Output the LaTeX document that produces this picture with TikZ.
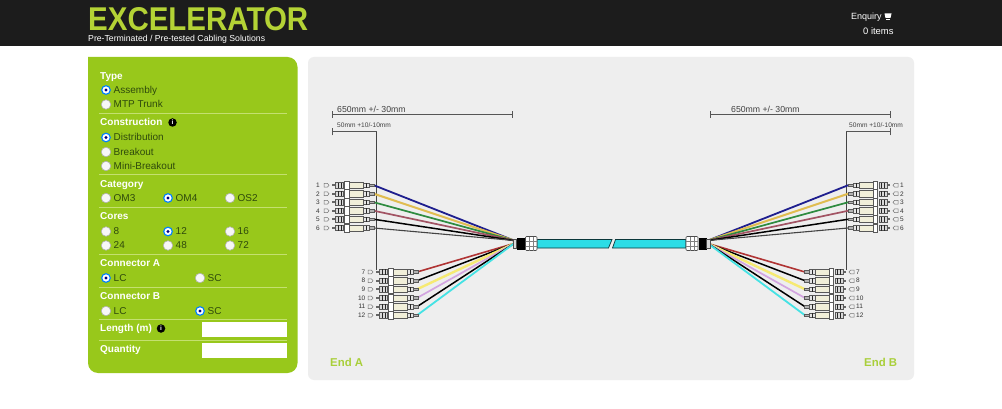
\documentclass[tikz,border=0pt]{standalone}
\usepackage{fontspec}
\usepackage{graphicx}
\setmainfont{Liberation Sans}
\definecolor{hdr}{HTML}{1C1C1C}
\definecolor{logo}{HTML}{B4D335}
\definecolor{pnl}{HTML}{98C81B}
\definecolor{grey}{HTML}{EEEEEE}
\definecolor{sep}{HTML}{C4E070}
\definecolor{lbl}{HTML}{2F4A0C}
\definecolor{endg}{HTML}{A9CF3A}
\definecolor{dimc}{HTML}{555555}
\definecolor{cab}{HTML}{2CDDE6}
\definecolor{body}{HTML}{F1EFD9}
\definecolor{wblue}{HTML}{1E1E8E}
\definecolor{worange}{HTML}{E0BC50}
\definecolor{wgreen}{HTML}{2E8B40}
\definecolor{wrose}{HTML}{A25464}
\definecolor{wgrey}{HTML}{444444}
\definecolor{wred}{HTML}{B03434}
\definecolor{wyellow}{HTML}{F6EA72}
\definecolor{wlilac}{HTML}{D3A5E0}
\definecolor{wcyan}{HTML}{45E2E4}
\tikzset{
  head/.style={anchor=west,inner sep=0pt,text=white,text height=8.4pt,text depth=2pt,font=\bfseries\fontsize{10}{10}\selectfont},
  lab/.style={anchor=west,inner sep=0pt,text=lbl,text height=8.4pt,text depth=2pt,font=\fontsize{10}{10}\selectfont},
  radio/.style={circle,draw=black!30,fill=black!3,line width=.6pt,minimum size=9.5pt,inner sep=0pt},
  radioon/.style={circle,draw=blue!50!cyan,fill=white,line width=1.1pt,minimum size=8.6pt,inner sep=0pt,
     path picture={\fill[blue!50!black] (path picture bounding box.center) circle (1.7pt);}},
  sepline/.style={draw=sep,line width=.8pt},
  infoi/.style={circle,fill=black,text=white,inner sep=0pt,minimum size=8.5pt,font=\bfseries\fontsize{6.5}{6.5}\selectfont},
  field/.style={fill=white,draw=none,minimum width=85pt,minimum height=15.5pt,inner sep=0pt,anchor=north west},
  dimline/.style={draw=dimc,line width=1pt},
  vline/.style={draw=wgrey,line width=.8pt},
  dimbig/.style={anchor=west,inner sep=0pt,text=black!75,font=\fontsize{8.7}{8.7}\selectfont},
  dimsmall/.style={anchor=west,inner sep=0pt,text=black!75,font=\fontsize{6.6}{6.6}\selectfont},
  corenum/.style={inner sep=0pt,text=black!80,font=\fontsize{6.5}{6.5}\selectfont},
  endlab/.style={anchor=west,inner sep=0pt,text=endg,font=\bfseries\fontsize{11.4}{11.4}\selectfont},
  wire/.style={line width=#1,line cap=round},
  part/.style={draw=black!65,line width=.5pt},
  lc/.pic={
    \fill[black!60] (0,-1) rectangle (3,1);
    \draw[part,fill=black!15] (3,-2.6) rectangle (11,2.6);
    \draw[black!85,line width=1pt] (6,-2.6) -- (6,2.6) (9,-2.6) -- (9,2.6);
    \draw[part,fill=body] (17,-3.2) rectangle (31,3.2);
    \draw[part,fill=white] (12.5,-4.1) rectangle (17,4.1);
    \draw[part,fill=black!10] (31,-2.4) rectangle (37,2.4);
    \draw[black!85,line width=.9pt] (34,-2.4) -- (34,2.4);
    \draw[part,fill=black!30] (37,-1.4) rectangle (42,1.4);
  },
  tag/.pic={
    \draw[black!55,line width=.5pt] (-2.5,-1.8) -- (1,-1.8) -- (2.5,0) -- (1,1.8) -- (-2.5,1.8) -- cycle;
  }
}
\begin{document}
\begin{tikzpicture}[x=1pt,y=-1pt]
\useasboundingbox (0,0) rectangle (1002,409);
\fill[white] (0,0) rectangle (1002,409);
% header
\fill[hdr] (0,0) rectangle (1002,46.5);
\node[anchor=south west,inner sep=0pt,text=logo] (brand) at (88,31.3) {\resizebox{220pt}{23pt}{\bfseries EXCELERATOR}};
\node[anchor=base west,inner sep=0pt,text=white] (tagline) at (88,42) {\resizebox{177pt}{!}{Pre-Terminated / Pre-tested Cabling Solutions}};
\node[anchor=west,inner sep=0pt,text=white,font=\fontsize{9}{9}\selectfont] (enq) at (851,17) {Enquiry};
\node[anchor=west,inner sep=0pt,text=white,font=\fontsize{9.4}{9.4}\selectfont] (items) at (863,31) {0 items};
\fill[white] (884.5,13.5) -- (891.5,13.5) -- (890.5,18) -- (885.5,18) -- cycle;
\fill[white] (885.5,19) rectangle (890,20.3);
% panels
\fill[pnl,rounded corners=10pt] (88,57) [sharp corners] -- (98,57) [rounded corners=10pt] -- (297.5,57) -- (297.5,373) -- (88,373) -- (88,70) [sharp corners] -- cycle;
\fill[grey,rounded corners=6pt] (308,57) rectangle (914,380);
% form
\node[head] (tType) at (100,76) {Type};
\node[radioon] (rAss) at (106,90) {}; \node[lab] (lAss) at (113.5,90) {Assembly};
\node[radio] (rMtp) at (106,104.5) {}; \node[lab] (lMtp) at (113.5,104.5) {MTP Trunk};
\draw[sepline] (99,113.5) -- (287,113.5);
\node[head] (tCon) at (100,122.5) {Construction};
\node[infoi] (iCon) at (172.5,122.5) {i};
\node[radioon] (rDis) at (106,137.5) {}; \node[lab] (lDis) at (113.5,137.5) {Distribution};
\node[radio] (rBrk) at (106,152) {}; \node[lab] (lBrk) at (113.5,152) {Breakout};
\node[radio] (rMin) at (106,166) {}; \node[lab] (lMin) at (113.5,166) {Mini-Breakout};
\draw[sepline] (99,174.5) -- (287,174.5);
\node[head] (tCat) at (100,184.5) {Category};
\node[radio] (rOm3) at (106,198) {}; \node[lab] (lOm3) at (113.5,198) {OM3};
\node[radioon] (rOm4) at (168,198) {}; \node[lab] (lOm4) at (175.5,198) {OM4};
\node[radio] (rOs2) at (230,198) {}; \node[lab] (lOs2) at (237.5,198) {OS2};
\draw[sepline] (99,207.5) -- (287,207.5);
\node[head] (tCor) at (100,216.5) {Cores};
\node[radio] (r8) at (106,231.5) {}; \node[lab] (l8) at (113.5,231.5) {8};
\node[radioon] (r12) at (168,231.5) {}; \node[lab] (l12) at (175.5,231.5) {12};
\node[radio] (r16) at (230,231.5) {}; \node[lab] (l16) at (237.5,231.5) {16};
\node[radio] (r24) at (106,245.5) {}; \node[lab] (l24) at (113.5,245.5) {24};
\node[radio] (r48) at (168,245.5) {}; \node[lab] (l48) at (175.5,245.5) {48};
\node[radio] (r72) at (230,245.5) {}; \node[lab] (l72) at (237.5,245.5) {72};
\draw[sepline] (99,254) -- (287,254);
\node[head] (tA) at (100,263.5) {Connector A};
\node[radioon] (rAL) at (106,278) {}; \node[lab] (lAL) at (113.5,278) {LC};
\node[radio] (rAS) at (200,278) {}; \node[lab] (lAS) at (207.5,278) {SC};
\draw[sepline] (99,287) -- (287,287);
\node[head] (tB) at (100,296) {Connector B};
\node[radio] (rBL) at (106,311) {}; \node[lab] (lBL) at (113.5,311) {LC};
\node[radioon] (rBS) at (200,311) {}; \node[lab] (lBS) at (207.5,311) {SC};
\draw[sepline] (99,319) -- (287,319);
\node[head] (tLen) at (100,328.5) {Length (m)};
\node[infoi] (iLen) at (161,328.5) {i};
\node[field] (fLen) at (202,321.5) {};
\draw[sepline] (99,340) -- (287,340);
\node[head] (tQty) at (100,349) {Quantity};
\node[field] (fQty) at (202,342.5) {};
% dimensions
\coordinate (dA1) at (332.5,114.5); \coordinate (dA2) at (512,114.5);
\coordinate (dA3) at (332.5,132); \coordinate (dA4) at (376.5,132); \coordinate (dA5) at (376.5,270);
\coordinate (dB1) at (710,114.5); \coordinate (dB2) at (890,114.5);
\coordinate (dB3) at (846,132); \coordinate (dB4) at (890,132); \coordinate (dB5) at (846,270);
\draw[dimline] (dA1) -- (dA2);
\draw[dimline] ([yshift=-3.5pt]dA1) -- ([yshift=3.5pt]dA1) ([yshift=-3.5pt]dA2) -- ([yshift=3.5pt]dA2);
\draw[dimline] (dA3) -- (dA4);
\draw[dimline] ([yshift=-3.5pt]dA3) -- ([yshift=3.5pt]dA3);
\draw[dimline] (dB1) -- (dB2);
\draw[dimline] ([yshift=-3.5pt]dB1) -- ([yshift=3.5pt]dB1) ([yshift=-3.5pt]dB2) -- ([yshift=3.5pt]dB2);
\draw[dimline] (dB3) -- (dB4);
\draw[dimline] ([yshift=-3.5pt]dB4) -- ([yshift=3.5pt]dB4);
\draw[vline] (dA4) -- (dA5);
\draw[vline] (dB3) -- (dB5);
\node[dimbig] (d650a) at (337,109) {650mm +/- 30mm};
\node[dimbig] (d650b) at (731,109) {650mm +/- 30mm};
\node[dimsmall] (d50a) at (337,125.5) {50mm +10/-10mm};
\node[dimsmall] (d50b) at (849,125.5) {50mm +10/-10mm};
% hubs
\coordinate (hubAu) at (514,240.5); \coordinate (hubAl) at (514,243.5);
\coordinate (hubBu) at (708,240.5); \coordinate (hubBl) at (708,243.5);
% fibres left and right
\foreach \n/\y/\c/\w in {1/185.3/wblue/1.8,2/193.8/worange/2,3/202.3/wgreen/1.7,4/210.8/wrose/1.7,5/219.3/black/1.5,6/228/wgrey/1.1}{
  \coordinate (au\n) at (374,\y);
  \coordinate (bu\n) at (848,\y);
  \draw[wire=\w,\c] (au\n) -- (hubAu);
  \draw[wire=\w,\c] (bu\n) -- (hubBu);
  \pic at (332,\y) {lc};
  \pic[xscale=-1] at (890,\y) {lc};
  \pic at (326.5,\y) {tag};
  \pic[xscale=-1] at (895.5,\y) {tag};
  \node[corenum] (na\n) at (318,\y) {\n};
  \node[corenum] (nb\n) at (902,\y) {\n};
}
\foreach \n/\y/\c/\w in {7/272/wred/1.6,8/280.7/black/1.5,9/289.3/wyellow/2.4,10/298/wlilac/1.7,11/306.7/black/1.5,12/315.3/wcyan/1.8}{
  \coordinate (al\n) at (417,\y);
  \coordinate (bl\n) at (805,\y);
  \draw[wire=\w,\c] (al\n) -- (hubAl);
  \draw[wire=\w,\c] (bl\n) -- (hubBl);
  \pic at (376,\y) {lc};
  \pic[xscale=-1] at (846,\y) {lc};
  \pic at (370.5,\y) {tag};
  \pic[xscale=-1] at (851.5,\y) {tag};
  \node[corenum,anchor=east] (nc\n) at (365.5,\y) {\n};
  \node[corenum,anchor=west] (nd\n) at (856,\y) {\n};
}
% cable
\draw[fill=cab,draw=black!75!cab,line width=.7pt] (537,239.5) -- (612,239.5) -- (608.5,248) -- (537,248) -- cycle;
\draw[fill=cab,draw=black!75!cab,line width=.7pt] (686,239.5) -- (615.5,239.5) -- (612.5,248) -- (686,248) -- cycle;
% boots
\fill[black] (516.5,237.5) rectangle (525,250);
\draw[black!70,fill=black!15,line width=.5pt] (513,239) rectangle (516.5,248.5);
\draw[black!70,fill=white,line width=.6pt,rounded corners=1pt] (525.5,236.5) rectangle (537,250.5);
\draw[black!50,line width=.6pt] (529,236.5) -- (529,250.5) (533,236.5) -- (533,250.5) (525.5,241) -- (537,241) (525.5,246) -- (537,246);
\fill[black] (698.5,237.5) rectangle (706.5,250);
\draw[black!70,fill=black!15,line width=.5pt] (706.5,239) rectangle (710,248.5);
\draw[black!70,fill=white,line width=.6pt,rounded corners=1pt] (686,236.5) rectangle (698,250.5);
\draw[black!50,line width=.6pt] (690,236.5) -- (690,250.5) (694,236.5) -- (694,250.5) (686,241) -- (698,241) (686,246) -- (698,246);
% ends
\node[endlab] (endA) at (330,362) {End A};
\node[endlab] (endB) at (864,362) {End B};
\end{tikzpicture}
\end{document}
